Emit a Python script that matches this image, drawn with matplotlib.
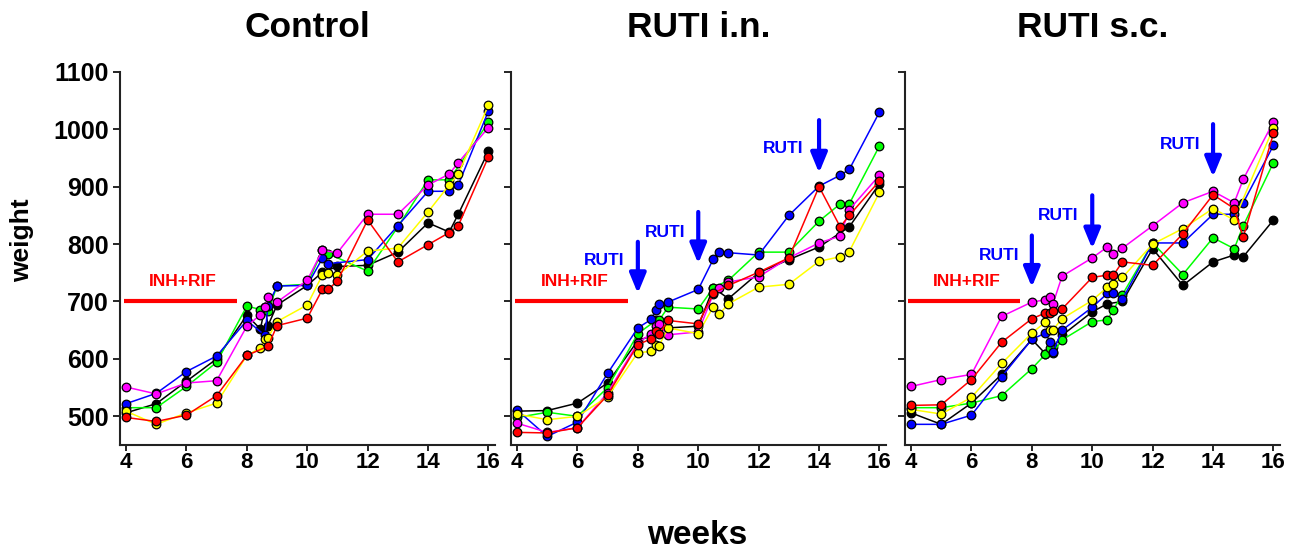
import matplotlib
matplotlib.use("Agg")
import matplotlib.pyplot as plt

plt.rcParams['font.family'] = ['Liberation Sans', 'DejaVu Sans']
plt.rcParams['font.weight'] = 'bold'

panel_titles = ["Control", "RUTI i.n.", "RUTI s.c."]
series_colors = ["black", "lime", "blue", "magenta", "yellow", "red"]
x_ticks = [4, 6, 8, 10, 12, 14, 16]
y_ticks = [500, 600, 700, 800, 900, 1000, 1100]

# ---- Control ----
ctrl_black_w = [4, 5, 6, 7, 8, 8.45, 8.6, 8.7, 9, 10, 10.5, 11, 12, 13, 14, 14.7, 15, 16]
ctrl_black = [506, 522, 561, 600, 676, 652, 691, 658, 694, 728, 751, 761, 763, 786, 837, 821, 852, 962]
ctrl_green_w = [4, 5, 6, 7, 8, 8.45, 8.7, 9, 10, 10.5, 10.7, 12, 13, 14, 14.7, 16]
ctrl_green = [515, 515, 552, 594, 692, 686, 683, 727, 730, 789, 783, 753, 830, 912, 912, 1012]
ctrl_blue_w = [4, 5, 6, 7, 8, 8.6, 8.7, 9, 10, 10.5, 10.7, 12, 13, 14, 14.7, 15, 16]
ctrl_blue = [522, 540, 578, 605, 667, 641, 693, 727, 728, 775, 766, 773, 832, 892, 892, 903, 1032]
ctrl_magenta_w = [4, 5, 6, 7, 8, 8.45, 8.6, 8.7, 9, 10, 10.5, 11, 12, 13, 14, 14.7, 15, 16]
ctrl_magenta = [551, 539, 558, 562, 657, 677, 690, 707, 699, 737, 789, 785, 852, 852, 903, 922, 942, 1003]
ctrl_yellow_w = [4, 5, 6, 7, 8, 8.45, 8.6, 8.7, 9, 10, 10.5, 10.7, 11, 12, 13, 14, 14.7, 15, 16]
ctrl_yellow = [509, 486, 506, 523, 606, 619, 635, 637, 665, 694, 746, 750, 746, 788, 793, 856, 903, 922, 1042]
ctrl_red_w = [4, 5, 6, 7, 8, 8.7, 9, 10, 10.5, 10.7, 11, 12, 13, 14, 14.7, 15, 16]
ctrl_red = [498, 491, 502, 536, 606, 622, 658, 671, 721, 721, 736, 842, 769, 799, 820, 832, 952]

# ---- RUTI i.n. ----
in_black_w = [4, 5, 6, 7, 8, 8.45, 9, 10, 10.5, 11, 12, 13, 14, 15, 16]
in_black = [509, 510, 523, 558, 632, 640, 654, 657, 724, 705, 750, 773, 795, 830, 905]
in_green_w = [4, 5, 6, 7, 8, 8.6, 8.7, 9, 10, 10.5, 11, 12, 13, 14, 14.7, 15, 16]
in_green = [498, 507, 500, 550, 644, 667, 667, 690, 687, 724, 737, 786, 786, 840, 870, 870, 971]
in_blue_w = [4, 5, 6, 7, 8, 8.45, 8.6, 8.7, 9, 10, 10.5, 10.7, 11, 12, 13, 14, 14.7, 15, 16]
in_blue = [511, 465, 490, 575, 654, 669, 686, 695, 699, 721, 774, 786, 785, 781, 850, 901, 920, 930, 1030]
in_magenta_w = [4, 5, 6, 7, 8, 8.45, 8.6, 8.7, 9, 10, 10.5, 10.7, 11, 12, 13, 14, 14.7, 15, 16]
in_magenta = [488, 472, 480, 541, 628, 644, 657, 660, 642, 647, 713, 724, 734, 743, 776, 802, 814, 860, 920]
in_yellow_w = [4, 5, 6, 7, 8, 8.45, 8.6, 8.7, 9, 10, 10.5, 10.7, 11, 12, 13, 14, 14.7, 15, 16]
in_yellow = [504, 494, 500, 534, 611, 613, 625, 623, 654, 644, 691, 678, 696, 725, 730, 770, 778, 787, 890]
in_red_w = [4, 5, 6, 7, 8, 8.45, 8.6, 8.7, 9, 10, 10.5, 11, 12, 13, 14, 14.7, 15, 16]
in_red = [472, 471, 480, 537, 625, 635, 648, 643, 667, 661, 714, 728, 751, 776, 900, 830, 850, 910]

# ---- RUTI s.c. ----
sc_black_w = [4, 5, 6, 7, 8, 8.45, 8.7, 9, 10, 10.5, 11, 12, 13, 14, 14.7, 15, 16]
sc_black = [506, 486, 523, 573, 634, 609, 620, 641, 682, 696, 700, 792, 728, 769, 781, 778, 842]
sc_green_w = [4, 5, 6, 7, 8, 8.45, 8.6, 8.7, 9, 10, 10.5, 10.7, 11, 12, 13, 14, 14.7, 15, 16]
sc_green = [515, 515, 523, 536, 583, 608, 619, 611, 633, 665, 668, 686, 712, 802, 747, 811, 792, 832, 942]
sc_blue_w = [4, 5, 6, 7, 8, 8.45, 8.6, 8.7, 9, 10, 10.5, 10.7, 11, 12, 13, 14, 14.7, 15, 16]
sc_blue = [486, 486, 502, 569, 634, 645, 630, 612, 650, 690, 714, 714, 704, 802, 802, 852, 852, 872, 972]
sc_magenta_w = [4, 5, 6, 7, 8, 8.45, 8.6, 8.7, 9, 10, 10.5, 10.7, 11, 12, 13, 14, 14.7, 15, 16]
sc_magenta = [552, 564, 573, 674, 699, 703, 707, 696, 744, 776, 795, 783, 793, 832, 872, 892, 872, 913, 1013]
sc_yellow_w = [4, 5, 6, 7, 8, 8.45, 8.6, 8.7, 9, 10, 10.5, 10.7, 11, 12, 13, 14, 14.7, 16]
sc_yellow = [512, 504, 533, 592, 645, 664, 651, 651, 670, 702, 725, 731, 742, 800, 827, 862, 842, 1003]
sc_red_w = [4, 5, 6, 7, 8, 8.45, 8.6, 8.7, 9, 10, 10.5, 10.7, 11, 12, 13, 14, 14.7, 15, 16]
sc_red = [519, 520, 564, 629, 670, 680, 680, 683, 687, 742, 746, 746, 769, 763, 818, 886, 862, 812, 993]

panels = [
    [(ctrl_black_w, ctrl_black), (ctrl_green_w, ctrl_green), (ctrl_blue_w, ctrl_blue),
     (ctrl_magenta_w, ctrl_magenta), (ctrl_yellow_w, ctrl_yellow), (ctrl_red_w, ctrl_red)],
    [(in_black_w, in_black), (in_green_w, in_green), (in_blue_w, in_blue),
     (in_magenta_w, in_magenta), (in_yellow_w, in_yellow), (in_red_w, in_red)],
    [(sc_black_w, sc_black), (sc_green_w, sc_green), (sc_blue_w, sc_blue),
     (sc_magenta_w, sc_magenta), (sc_yellow_w, sc_yellow), (sc_red_w, sc_red)],
]

# treatment annotations
inh_label = "INH+RIF"
inh_span = [(3.93, 7.66), (3.93, 7.67), (3.9, 7.6)]
inh_level = 700
ruti_label = "RUTI"
ruti_arrows = [
    [],
    [(8, 804, 714, 6.88, 771), (10, 856, 766, 8.9, 820), (14, 1016, 924, 12.8, 967)],
    [(8, 815, 725, 6.9, 781), (10, 885, 792, 8.87, 850), (14, 1009, 917, 12.9, 974)],
]

fig = plt.figure(figsize=(12.9, 5.5), dpi=100)
lefts = [120 / 1290, 511 / 1290, 905 / 1290]
bottom = (550 - 445) / 550
height = (445 - 71.9) / 550
width = 374.5 / 1290

for i, left in enumerate(lefts):
    ax = fig.add_axes([left, bottom, width, height])
    for (w, v), c in zip(panels[i], series_colors):
        ax.plot(w, v, '-', color=c, lw=1.1, marker='o', ms=6.2,
                mfc=c, mec='black', mew=0.9, zorder=3)
    ax.set_xlim(3.8, 16.2)
    ax.set_ylim(450, 1100)
    ax.set_xticks(x_ticks)
    ax.set_yticks(y_ticks)
    ax.set_xticklabels([str(t) for t in x_ticks], fontsize=16, fontweight='bold')
    if i == 0:
        ax.set_yticklabels([str(t) for t in y_ticks], fontsize=18, fontweight='bold')
    else:
        ax.set_yticklabels([])
    ax.tick_params(axis='y', direction='out', length=5, width=1.2, pad=3)
    ax.tick_params(axis='x', direction='out', length=4, width=1.2, pad=1)
    for s in ['top', 'right']:
        ax.spines[s].set_visible(False)
    for s in ['left', 'bottom']:
        ax.spines[s].set_linewidth(1.5)
        ax.spines[s].set_color('#222222')
    ax.set_title(panel_titles[i], fontsize=25.5, fontweight='bold', pad=25)

    x0, x1 = inh_span[i]
    ax.plot([x0, x1], [inh_level, inh_level], color='red', lw=3, solid_capstyle='butt', zorder=2)
    ax.text((x0 + x1) / 2 + 0.1, 735, inh_label, color='red', fontsize=12.5,
            fontweight='bold', ha='center', va='center')
    for (xa, ytop, ytip, tx, ty) in ruti_arrows[i]:
        ax.annotate('', xy=(xa, ytip), xytext=(xa, ytop),
                    arrowprops=dict(arrowstyle='-|>,head_length=0.8,head_width=0.33',
                                    color='blue', lw=3, mutation_scale=15,
                                    shrinkA=0, shrinkB=0), zorder=4)
        ax.text(tx, ty, ruti_label, color='blue', fontsize=12.5, fontweight='bold',
                ha='center', va='center')

fig.text(22 / 1290, 1 - 240 / 550, "weight", rotation=90, fontsize=19,
         fontweight='bold', ha='center', va='center')
fig.text(697 / 1290, 1 - 535 / 550, "weeks", fontsize=24, fontweight='bold',
         ha='center', va='center')

fig.savefig("out.png", dpi=100)
